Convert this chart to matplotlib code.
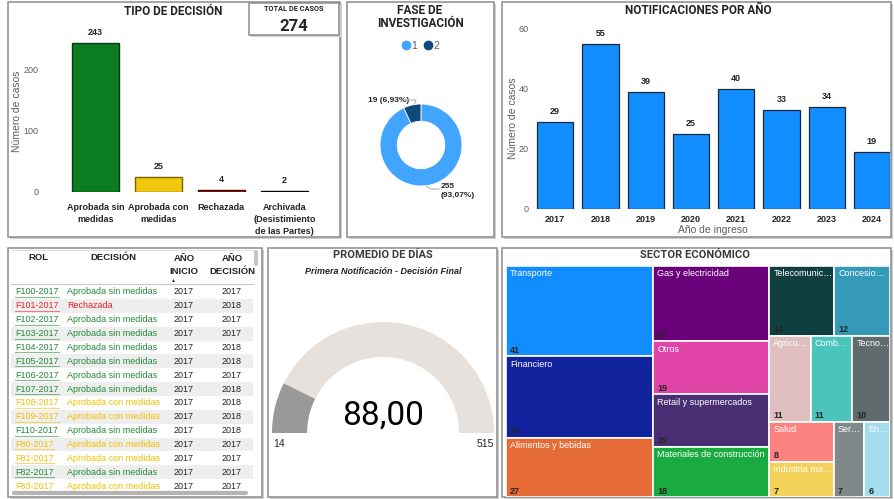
import matplotlib
matplotlib.use("Agg")
import matplotlib.pyplot as plt
from matplotlib.patches import Rectangle, Wedge
from matplotlib.lines import Line2D

# ---- datos ----
decisiones = ["Aprobada sin\nmedidas", "Aprobada con\nmedidas", "Rechazada",
              "Archivada\n(Desistimiento\nde las Partes)"]
casos_decision = [243, 25, 4, 2]
total_casos = 274

fases = ["1", "2"]
casos_fase = [255, 19]

anios = ["2017", "2018", "2019", "2020", "2021", "2022", "2023", "2024"]
casos_anio = [29, 55, 39, 25, 40, 33, 34, 19]

tabla_rol = ["F100-2017", "F101-2017", "F102-2017", "F103-2017", "F104-2017",
             "F105-2017", "F106-2017", "F107-2017", "F108-2017", "F109-2017",
             "F110-2017", "F80-2017", "F81-2017", "F82-2017", "F83-2017"]
tabla_decision = ["Aprobada sin medidas", "Rechazada", "Aprobada sin medidas",
                  "Aprobada sin medidas", "Aprobada sin medidas", "Aprobada sin medidas",
                  "Aprobada sin medidas", "Aprobada sin medidas", "Aprobada con medidas",
                  "Aprobada con medidas", "Aprobada sin medidas", "Aprobada con medidas",
                  "Aprobada con medidas", "Aprobada sin medidas", "Aprobada con medidas"]
tabla_inicio = [2017] * 15
tabla_fin = [2017, 2018, 2017, 2017, 2018, 2018, 2017, 2018, 2018, 2018,
             2018, 2017, 2017, 2017, 2017]

dias_min = 14
dias_max = 515
dias_promedio = 88.00

sectores = ["Transporte", "Financiero", "Alimentos y bebidas", "Gas y electricidad",
            "Otros", "Retail y supermercados", "Materiales de construcción",
            "Telecomunic…", "Concesio…", "Agricu…", "Comb…", "Tecno…",
            "Salud", "Industria ma…", "Ser…", "En…"]
casos_sector = [41, 37, 27, 27, 19, 19, 18, 14, 12, 11, 11, 10, 8, 7, 7, 6]
colores_sector = ["#118DFF", "#12239E", "#E66C37", "#6B007B", "#E044A7", "#4A2E73",
                  "#1AAB40", "#0F403F", "#3599B8", "#DFBFBF", "#4AC5BB", "#5F6B6D",
                  "#FB8281", "#F4D25A", "#7F898A", "#A4DDEE"]
# agrupacion del treemap (columnas / filas alternadas)
grupos_sector = [[0, 1, 2], [3, 4, 5, 6], [[7, 8], [9, 10, 11], [[12, 13], 14, 15]]]

plt.rcParams["font.family"] = ["Liberation Sans", "DejaVu Sans"]
TIT = ["Roboto", "DejaVu Sans"]
GRIS = "#605E5C"
OSC = "#252423"

W, H = 894, 499
fig = plt.figure(figsize=(W / 100, H / 100), dpi=100)
fig.patch.set_facecolor("white")

ax_bg = fig.add_axes([0, 0, 1, 1])
ax_bg.set_xlim(0, W)
ax_bg.set_ylim(H, 0)
ax_bg.axis("off")


def px_axes(x0, y0, x1, y1):
    ax = fig.add_axes([x0 / W, 1 - y1 / H, (x1 - x0) / W, (y1 - y0) / H])
    ax.patch.set_visible(False)
    return ax


def panel(x0, y0, x1, y1, z=1):
    ax_bg.add_patch(Rectangle((x0 + 2, y0 + 2), x1 - x0, y1 - y0, fc="#cfcfcf", ec="none", zorder=z - 0.5))
    ax_bg.add_patch(Rectangle((x0, y0), x1 - x0, y1 - y0, fc="white", ec="#8c8c8c", lw=1.1, zorder=z))


def sin_marco(ax):
    for s in ax.spines.values():
        s.set_visible(False)
    ax.tick_params(length=0)


panel(8, 2, 340, 237)
panel(347, 2, 494, 237)
panel(502, 2, 891, 237)
panel(8, 248, 262, 497)
panel(268, 248, 497, 497)
panel(502, 248, 891, 497)

# ---- tipo de decision ----
ax_bg.text(173, 11, "TIPO DE DECISIÓN", ha="center", va="center", fontsize=8.5,
           fontweight="bold", family=TIT, color=OSC, zorder=5)
ax1 = px_axes(58, 26, 322, 192)
col_dec = ["#0B7D21", "#F2C80F", "#A31515", "#111111"]
borde_dec = ["#063d10", "#7a6400", "#4d0000", "#000000"]
x1 = range(len(casos_decision))
ax1.bar(x1, casos_decision, width=0.75, color=col_dec, edgecolor=borde_dec, linewidth=1)
for i, v in zip(x1, casos_decision):
    ax1.text(i, v + 16, str(v), ha="center", va="center", fontsize=6.5, fontweight="bold", color=OSC)
ax1.set_xlim(-0.6, 3.6)
ax1.set_ylim(0, 270)
ax1.set_yticks([0, 100, 200])
ax1.set_xticks(list(x1), decisiones, fontsize=6.5, fontweight="bold", color=OSC, linespacing=1.45)
ax1.tick_params(axis="y", labelsize=6.5, labelcolor=GRIS, pad=14)
ax1.tick_params(axis="x", pad=8)
sin_marco(ax1)
ax_bg.text(17, 111, "Número de casos", rotation=90, ha="center", va="center", fontsize=7.5, color=GRIS)

# tarjeta total
panel(249, 3, 339, 35, z=6)
ax_bg.text(294, 9, "TOTAL DE CASOS", ha="center", va="center", fontsize=5.3,
           fontweight="bold", family=TIT, color=OSC, zorder=7)
ax_bg.text(294, 26, str(total_casos), ha="center", va="center", fontsize=12,
           fontweight="bold", family=TIT, color=OSC, zorder=7)

# ---- fase de investigacion ----
ax_bg.text(420, 17, "FASE DE\nINVESTIGACIÓN", ha="center", va="center", fontsize=8.5,
           fontweight="bold", family=TIT, color=OSC, linespacing=0.95, zorder=5)
ax2 = px_axes(347, 60, 494, 230)
col_fase = ["#41A4FF", "#0F4A7F"]
ax2.pie(casos_fase, colors=col_fase, startangle=90, counterclock=False, radius=1,
        wedgeprops=dict(width=0.42, edgecolor="white", linewidth=0.6))
ax2.set_xlim(-(421 - 347) / 41, (494 - 421) / 41)
ax2.set_ylim(-(230 - 145) / 41, (145 - 60) / 41)
manejadores = [Line2D([], [], marker="o", ls="", color=c, markersize=6) for c in col_fase]
fig.legend(manejadores, fases, loc="center", bbox_to_anchor=(420 / W, 1 - 46 / H), ncol=2,
           frameon=False, fontsize=7.5, handletextpad=0.05, columnspacing=0.5,
           handlelength=1, labelcolor=GRIS)
pct = [v / sum(casos_fase) * 100 for v in casos_fase]
ax_bg.text(368, 100, f"{casos_fase[1]} ({pct[1]:.2f}%)".replace(".", ","), ha="left", va="center",
           fontsize=6, fontweight="bold", color=OSC, zorder=5)
ax_bg.plot([405, 416, 414], [100, 100, 105], color="#b3b3b3", lw=0.8, zorder=5)
ax_bg.text(441, 191, f"{casos_fase[0]}\n({pct[0]:.2f}%)".replace(".", ","), ha="left", va="center",
           fontsize=6, fontweight="bold", color=OSC, linespacing=1.4, zorder=5)
ax_bg.plot([426, 431, 439], [186, 189, 189], color="#b3b3b3", lw=0.8, zorder=5)

# ---- notificaciones por año ----
ax_bg.text(698, 10, "NOTIFICACIONES POR AÑO", ha="center", va="center", fontsize=8.5,
           fontweight="bold", family=TIT, color=OSC, zorder=5)
ax3 = px_axes(533, 23, 890, 209)
x3 = range(len(anios))
ax3.bar(x3, casos_anio, width=0.8, color="#118DFF", edgecolor="#1b2838", linewidth=0.9)
for i, v in zip(x3, casos_anio):
    ax3.text(i, v + 3.4, str(v), ha="center", va="center", fontsize=6.5, fontweight="bold", color=OSC)
ax3.set_xlim(-0.49, 7.4)
ax3.set_ylim(0, 62)
ax3.set_yticks([0, 20, 40, 60])
ax3.set_xticks(list(x3), anios, fontsize=6.5, fontweight="bold", color=OSC)
ax3.tick_params(axis="y", labelsize=6.5, labelcolor=GRIS, pad=3)
ax3.tick_params(axis="x", pad=4)
sin_marco(ax3)
ax_bg.text(513, 118, "Número de casos", rotation=90, ha="center", va="center", fontsize=7.5, color=GRIS)
ax_bg.text(713, 230, "Año de ingreso", ha="center", va="center", fontsize=7.5, color=GRIS)

# ---- tabla ----
col_txt = {"Aprobada sin medidas": "#23893A", "Aprobada con medidas": "#F2C000", "Rechazada": "#E8202A"}
for xh, s in [(38, "ROL"), (113, "DECISIÓN")]:
    ax_bg.text(xh, 258, s, ha="center", va="center", fontsize=6.8, fontweight="bold", color=OSC, zorder=5)
ax_bg.text(184, 265, "AÑO\nINICIO", ha="center", va="center", fontsize=6.8, fontweight="bold",
           color=OSC, linespacing=1.5, zorder=5)
ax_bg.text(232, 265, "AÑO\nDECISIÓN", ha="center", va="center", fontsize=6.8, fontweight="bold",
           color=OSC, linespacing=1.5, zorder=5)
ax_bg.text(172, 280, "▲", ha="center", va="center", fontsize=3.5, color=OSC, zorder=5)
ax_bg.plot([11, 253], [284, 284], color="#c8c8c8", lw=0.8, zorder=5)
ax_bg.plot([12, 253], [250, 250], color="#d8d8d8", lw=0.6, zorder=5)

paso = 13.86
rend = fig.canvas.get_renderer()
inv = ax_bg.transData.inverted()
for i in range(len(tabla_rol)):
    y = 292 + i * paso
    if i % 2 == 1:
        ax_bg.add_patch(Rectangle((11, y - paso / 2), 242, paso, fc="#EEEEEE", ec="none", zorder=2))
    c = col_txt[tabla_decision[i]]
    t = ax_bg.text(15, y, tabla_rol[i], ha="left", va="center", fontsize=6.5, color=c, zorder=5)
    bb = t.get_window_extent(rend)
    xa = inv.transform((bb.x0, bb.y0))[0]
    xb = inv.transform((bb.x1, bb.y0))[0]
    ax_bg.plot([xa, xb], [y + 5, y + 5], color=c, lw=0.8, alpha=0.55, zorder=5)
    ax_bg.text(67, y, tabla_decision[i], ha="left", va="center", fontsize=6.5, color=c, zorder=5)
    ax_bg.text(184, y, str(tabla_inicio[i]), ha="center", va="center", fontsize=6.5, color=OSC, zorder=5)
    ax_bg.text(232, y, str(tabla_fin[i]), ha="center", va="center", fontsize=6.5, color=OSC, zorder=5)

ax_bg.plot([256, 256], [252, 264], color="#c4c4c4", lw=3, solid_capstyle="round", zorder=5)
ax_bg.plot([14, 246], [493, 493], color="#b4b4b4", lw=3, solid_capstyle="round", zorder=5)

# ---- promedio de dias ----
ax_bg.text(383, 255, "PROMEDIO DE DÍAS", ha="center", va="center", fontsize=8,
           fontweight="bold", family=TIT, color="#3b3a39", zorder=5)
ax_bg.text(383, 272, "Primera Notificación - Decisión Final", ha="center", va="center", fontsize=6.5,
           fontweight="bold", style="italic", color=OSC, zorder=5)
ax5 = px_axes(268, 280, 497, 497)
ax5.set_xlim(268 - 383, 497 - 383)
ax5.set_ylim(433 - 497, 433 - 280)
ax5.axis("off")
ang = 180 - 180 * (dias_promedio - dias_min) / (dias_max - dias_min)
ax5.add_patch(Wedge((0, 0), 111, 0, 180, width=35, fc="#E6E1DC", ec="none"))
ax5.add_patch(Wedge((0, 0), 111, ang, 180, width=35, fc="#999999", ec="none"))
ax5.text(0, 17, f"{dias_promedio:.2f}".replace(".", ","), ha="center", va="center",
         fontsize=24, family=TIT, color="black")
ax5.text(-110, -11, str(dias_min), ha="left", va="center", fontsize=7.5, color=OSC)
ax5.text(111, -11, str(dias_max), ha="right", va="center", fontsize=7.5, color=OSC)

# ---- sector economico (treemap) ----
ax_bg.text(695, 255, "SECTOR ECONÓMICO", ha="center", va="center", fontsize=8,
           fontweight="bold", family=TIT, color="#3b3a39", zorder=5)
ax6 = px_axes(506, 266, 890, 497)
ax6.set_xlim(0, 1)
ax6.set_ylim(1, 0)
ax6.axis("off")


def tamano(n):
    return casos_sector[n] if isinstance(n, int) else sum(tamano(m) for m in n)


def repartir(nodo, x, y, w, h, horiz, cajas):
    if isinstance(nodo, int):
        cajas.append((nodo, x, y, w, h))
        return
    tot = tamano(nodo)
    for m in nodo:
        f = tamano(m) / tot
        if horiz:
            repartir(m, x, y, w * f, h, not horiz, cajas)
            x += w * f
        else:
            repartir(m, x, y, w, h * f, not horiz, cajas)
            y += h * f


cajas = []
repartir(grupos_sector, 0, 0, 1, 1, True, cajas)
dx, dy = 4 / 384, 1 / 231
for n, x, y, w, h in cajas:
    ax6.add_patch(Rectangle((x, y), w, h, fc=colores_sector[n], ec="white", lw=1.2))
    ax6.text(x + dx, y + 8 * dy, sectores[n], ha="left", va="center", fontsize=6.5, color="white")
    ax6.text(x + dx, y + h - 6 * dy, str(casos_sector[n]), ha="left", va="center", fontsize=6.5,
             fontweight="bold", color=OSC)

fig.savefig("out.png", dpi=100, facecolor="white")
